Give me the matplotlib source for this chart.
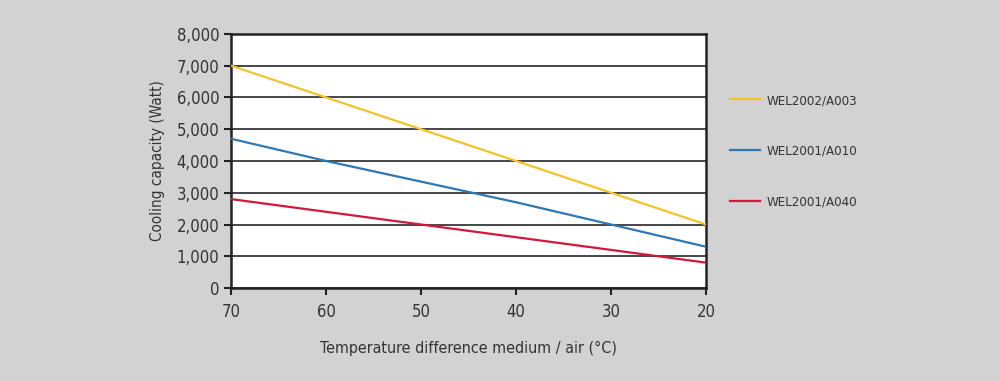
import matplotlib.pyplot as plt
from matplotlib.ticker import FuncFormatter

temp_diff = [70, 60, 50, 40, 30, 20]
wel2002_a003 = [7000, 6000, 5000, 4000, 3000, 2000]
wel2001_a010 = [4700, 4000, 3350, 2700, 2000, 1300]
wel2001_a040 = [2800, 2400, 2000, 1600, 1200, 800]

labels = ['WEL2002/A003', 'WEL2001/A010', 'WEL2001/A040']
colors = ['#f2c32e', '#2f78b4', '#d0183a']

plt.rcParams['font.family'] = ['DejaVu Sans']
plt.rcParams['font.stretch'] = 'condensed'
bg = '#d2d2d2'

fig = plt.figure(figsize=(10, 3.81), dpi=100, facecolor=bg)
ax = fig.add_axes([0.231, 0.244, 0.475, 0.667])

for y, lab, c in zip([wel2002_a003, wel2001_a010, wel2001_a040], labels, colors):
    ax.plot(temp_diff, y, color=c, lw=1.6, label=lab, zorder=3)

ax.set_xlim(70, 20)
ax.set_ylim(0, 8000)
ax.set_xticks(temp_diff)
ax.set_yticks(range(0, 8001, 1000))
ax.yaxis.set_major_formatter(FuncFormatter(lambda v, p: f'{int(v):,}'))
ax.grid(axis='y', color='#383838', lw=1.3)
ax.set_axisbelow(True)
for s in ax.spines.values():
    s.set_linewidth(1.8)
    s.set_color('#222222')
ax.tick_params(direction='out', length=5, width=1.5, labelsize=12,
               color='#222222', labelcolor='#333333')
ax.tick_params(axis='x', pad=6)

ax.set_xlabel('Temperature difference medium / air (°C)', fontsize=11.5,
              color='#333333', labelpad=14)
ax.set_ylabel('Cooling capacity (Watt)', fontsize=11, color='#333333', labelpad=8)

leg = ax.legend(loc='upper left', bbox_to_anchor=(1.025, 0.81), frameon=False,
                fontsize=9.5, handlelength=2.3, labelspacing=2.85, handletextpad=0.5)
for t in leg.get_texts():
    t.set_color('#333333')

fig.savefig('out.png', dpi=100, facecolor=bg)
